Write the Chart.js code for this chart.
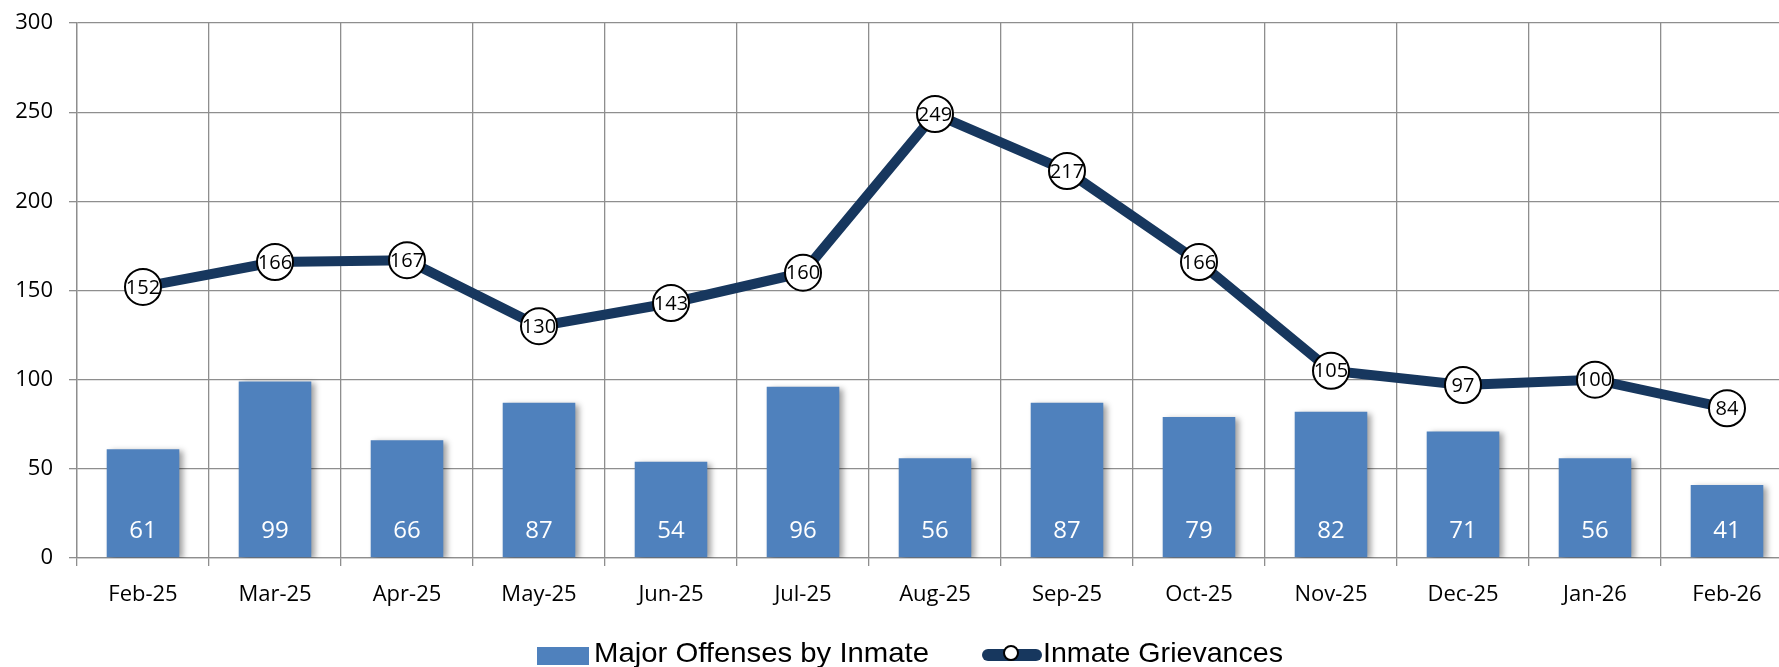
<!DOCTYPE html>
<html>
<head>
<meta charset="utf-8">
<title>Major Offenses and Inmate Grievances</title>
<script src="https://cdn.jsdelivr.net/npm/chart.js@4/dist/chart.umd.min.js"></script>
<style>
  html, body { margin: 0; padding: 0; background: #fff; overflow: hidden; }
  #wrap { position: relative; width: 1779px; height: 667px; overflow: hidden; }
  #chart { position: absolute; left: 0; top: 0; }
  .legend-item { position: absolute; top: 634px; height: 38px; display: flex; align-items: center; }
  .legend-text { font-family: "Liberation Sans", Arial, sans-serif; font-size: 28px; color: #000;
                 transform-origin: left center; white-space: nowrap; display: inline-block; }
  .swatch-bar { width: 52px; height: 18px; background: #4F81BD; margin-right: 5px; margin-top: 5px; }
  .swatch-line { position: relative; width: 60px; height: 12px; margin-right: 1px; margin-top: 4px; }
  .swatch-line .seg { position: absolute; left: 0; top: 0; width: 60px; height: 12px; border-radius: 6px; background: #17375E; }
  .swatch-line .dot { position: absolute; left: 21px; top: -4px; width: 16px; height: 16px; border-radius: 50%;
                      background: #fff; border: 2px solid #000; box-sizing: border-box; }
</style>
</head>
<body>
<div id="wrap">
  <canvas id="chart" width="1793" height="667"></canvas>
  <div class="legend-item" style="left:537px">
    <div class="swatch-bar"></div>
    <span class="legend-text" data-target="335">Major Offenses by Inmate</span>
  </div>
  <div class="legend-item" style="left:982px">
    <div class="swatch-line"><div class="seg"></div><div class="dot"></div></div>
    <span class="legend-text" data-target="240">Inmate Grievances</span>
  </div>
</div>
<script>
// Monthly counts, Feb-25 .. Feb-26
const months = ['Feb-25', 'Mar-25', 'Apr-25', 'May-25', 'Jun-25', 'Jul-25', 'Aug-25',
                'Sep-25', 'Oct-25', 'Nov-25', 'Dec-25', 'Jan-26', 'Feb-26'];
const majorOffenses = [61, 99, 66, 87, 54, 96, 56, 87, 79, 82, 71, 56, 41];
const grievances = [152, 166, 167, 130, 143, 160, 249, 217, 166, 105, 97, 100, 84];
const yTicks = [0, 50, 100, 150, 200, 250, 300];

const barBlue = '#4F81BD';
const navy = '#17375E';
const gridGray = '#8e8e8e';

// squeeze/stretch the legend text to the width it has in the original
document.querySelectorAll('.legend-text').forEach(el => {
  const w = el.getBoundingClientRect().width;
  const target = parseFloat(el.dataset.target);
  if (w > 0) el.style.transform = 'scaleX(' + (target / w) + ')';
});

const barShadow = {
  id: 'barShadow',
  beforeDatasetDraw(chart, args) {
    if (args.index !== 0) return;
    const ctx = chart.ctx;
    ctx.save();
    ctx.shadowColor = 'rgba(0,0,0,0.38)';
    ctx.shadowBlur = 6;
    ctx.shadowOffsetX = 4;
    ctx.shadowOffsetY = 2;
  },
  afterDatasetDraw(chart, args) {
    if (args.index !== 0) return;
    chart.ctx.restore();
  }
};

const valueLabels = {
  id: 'valueLabels',
  afterDatasetsDraw(chart) {
    const ctx = chart.ctx;
    ctx.save();
    ctx.textAlign = 'center';
    ctx.textBaseline = 'middle';

    const bars = chart.getDatasetMeta(0).data;
    ctx.fillStyle = '#fff';
    ctx.font = '24px "Open Sans", sans-serif';
    bars.forEach((bar, i) => {
      ctx.fillText(String(majorOffenses[i]), bar.x, bar.base - 26);
    });

    const pts = chart.getDatasetMeta(1).data;
    ctx.fillStyle = '#000';
    ctx.font = '20px "Open Sans", sans-serif';
    pts.forEach((pt, i) => {
      ctx.fillText(String(grievances[i]), pt.x, pt.y + 1);
    });
    ctx.restore();
  }
};

new Chart(document.getElementById('chart'), {
  type: 'bar',
  data: {
    labels: months,
    datasets: [
      {
        type: 'bar',
        label: 'Major Offenses by Inmate',
        data: majorOffenses,
        backgroundColor: barBlue,
        categoryPercentage: 1,
        barPercentage: 0.55,
        order: 1
      },
      {
        type: 'line',
        label: 'Inmate Grievances',
        data: grievances,
        borderColor: navy,
        borderWidth: 10,
        tension: 0,
        pointRadius: 18,
        pointHoverRadius: 18,
        pointBackgroundColor: '#fff',
        pointBorderColor: '#000',
        pointBorderWidth: 2,
        order: 0,
        clip: false
      }
    ]
  },
  options: {
    responsive: false,
    animation: false,
    layout: { autoPadding: false, padding: { top: 23, right: 0, bottom: 0, left: 0 } },
    plugins: {
      legend: { display: false },
      tooltip: { enabled: false }
    },
    scales: {
      x: {
        grid: { color: gridGray, lineWidth: 1.3, tickLength: 8, offset: true },
        border: { color: gridGray, width: 1.3 },
        ticks: {
          color: '#000',
          padding: 16,
          maxRotation: 0,
          font: { family: '"Open Sans", sans-serif', size: 22 }
        },
        afterFit: (scale) => {
          scale.height = 109;
          scale.paddingLeft = 0;
          scale.paddingRight = 0;
        }
      },
      y: {
        min: 0,
        max: 300,
        afterBuildTicks: (scale) => { scale.ticks = yTicks.map(v => ({ value: v })); },
        grid: { color: gridGray, lineWidth: 1.3, tickLength: 8 },
        border: { color: gridGray, width: 1.3 },
        ticks: {
          color: '#000',
          padding: 16,
          font: { family: '"Open Sans", sans-serif', size: 22 }
        },
        afterFit: (scale) => {
          scale.width = 77;
          scale.paddingTop = 0;
          scale.paddingBottom = 0;
        }
      }
    }
  },
  plugins: [barShadow, valueLabels]
});
</script>
</body>
</html>
